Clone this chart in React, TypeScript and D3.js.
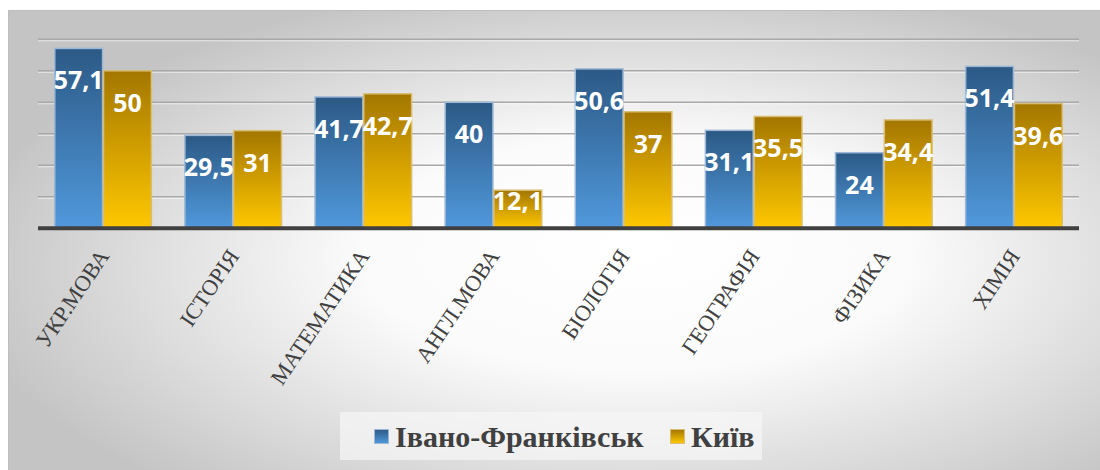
import React from "react";
import * as d3 from "d3";

const categories = ["УКР.МОВА", "ІСТОРІЯ", "МАТЕМАТИКА", "АНГЛ.МОВА", "БІОЛОГІЯ", "ГЕОГРАФІЯ", "ФІЗИКА", "ХІМІЯ"];
const seriesNames = ["Івано-Франківськ", "Київ"];
const ifValues = [57.1, 29.5, 41.7, 40, 50.6, 31.1, 24, 51.4];
const kyivValues = [50, 31, 42.7, 12.1, 37, 35.5, 34.4, 39.6];
const yTicks = [0, 10, 20, 30, 40, 50, 60];

const W = 1100;
const H = 470;
const plotLeft = 38;
const plotRight = 1079;
const plotTop = 39.3;
const plotBottom = 228.3;

export default function App() {
  const x0 = d3.scaleBand<string>().domain(categories).range([plotLeft, plotRight]).padding(0);
  const bw = x0.bandwidth();
  const x1 = d3.scaleBand<string>().domain(seriesNames).range([bw * 0.125, bw * 0.875]).padding(0);
  const y = d3.scaleLinear().domain([0, 60]).range([plotBottom, plotTop]);
  const series = [ifValues, kyivValues];
  const fills = ["url(#gBlue)", "url(#gGold)"];
  const strokes = ["#9db8d6", "#d9bd73"];
  const fmt = (v: number) => String(v).replace(".", ",");

  return (
    <svg width={W} height={H} style={{ position: "absolute", left: 0, top: 0, display: "block" }}>
      <defs>
        <radialGradient id="bg" cx="0.57" cy="0.55" r="0.62" fx="0.57" fy="0.5">
          <stop offset="0" stopColor="#ffffff" />
          <stop offset="0.4" stopColor="#fbfbfb" />
          <stop offset="1" stopColor="#c4c4c4" />
        </radialGradient>
        <linearGradient id="gBlue" x1="0" y1="0" x2="0" y2="1">
          <stop offset="0" stopColor="#2c5985" />
          <stop offset="1" stopColor="#5099dc" />
        </linearGradient>
        <linearGradient id="gGold" x1="0" y1="0" x2="0" y2="1">
          <stop offset="0" stopColor="#a37600" />
          <stop offset="1" stopColor="#ffc800" />
        </linearGradient>
      </defs>
      <rect x={0} y={0} width={W} height={H} fill="#ffffff" />
      <rect x={8.5} y={10.5} width={W} height={H} fill="url(#bg)" stroke="#bdbdbd" strokeWidth={1} />

      {yTicks.filter((t) => t > 0).map((t) => (
        <g key={t}>
          <line x1={plotLeft} x2={plotRight} y1={y(t)} y2={y(t)} stroke="#a8a8a8" strokeWidth={1.5} />
          <line x1={plotLeft} x2={plotRight} y1={y(t) + 1.5} y2={y(t) + 1.5} stroke="#ffffff" strokeOpacity={0.6} strokeWidth={1} />
        </g>
      ))}

      {categories.map((c, i) => (
        <g key={c} transform={`translate(${x0(c)},0)`}>
          {series.map((vals, s) => {
            const v = vals[i];
            const top = y(v);
            const h = plotBottom - top;
            const bx = x1(seriesNames[s])!;
            const bwid = x1.bandwidth();
            const cy = top + Math.min(31, h - 28);
            return (
              <g key={s}>
                <rect x={bx + 0.5} y={top} width={bwid - 1} height={h} fill={fills[s]} stroke={strokes[s]} strokeWidth={1.5} />
                <text
                  x={bx + bwid / 2}
                  y={cy}
                  textAnchor="middle"
                  dominantBaseline="central"
                  fill="#ffffff"
                  fontFamily="'Open Sans', sans-serif"
                  fontWeight={700}
                  fontSize={25}
                >
                  {fmt(v)}
                </text>
              </g>
            );
          })}
        </g>
      ))}

      <line x1={plotLeft} x2={plotRight} y1={plotBottom} y2={plotBottom} stroke="#404040" strokeWidth={4} />

      {categories.map((c) => {
        const cx = x0(c)! + bw / 2 + 7;
        const cy = 256;
        return (
          <text
            key={c}
            transform={`translate(${cx},${cy}) rotate(-56)`}
            textAnchor="end"
            fill="#404040"
            fontFamily="'Liberation Serif', 'Times New Roman', serif"
            fontSize={22.5}
          >
            {c}
          </text>
        );
      })}

      <rect x={340} y={412} width={422} height={48} fill="#f7f7f7" fillOpacity={0.7} />
      {seriesNames.map((n, s) => {
        const lx = s === 0 ? 374 : 670;
        return (
          <g key={n}>
            <rect x={lx + 0.5} y={429.5} width={14} height={14} fill={fills[s]} stroke={strokes[s]} strokeWidth={1} />
            <text
              x={lx + 21}
              y={446.5}
              fill="#404040"
              fontFamily="'Liberation Serif', 'Times New Roman', serif"
              fontWeight={700}
              fontSize={30}
            >
              {n}
            </text>
          </g>
        );
      })}
    </svg>
  );
}
